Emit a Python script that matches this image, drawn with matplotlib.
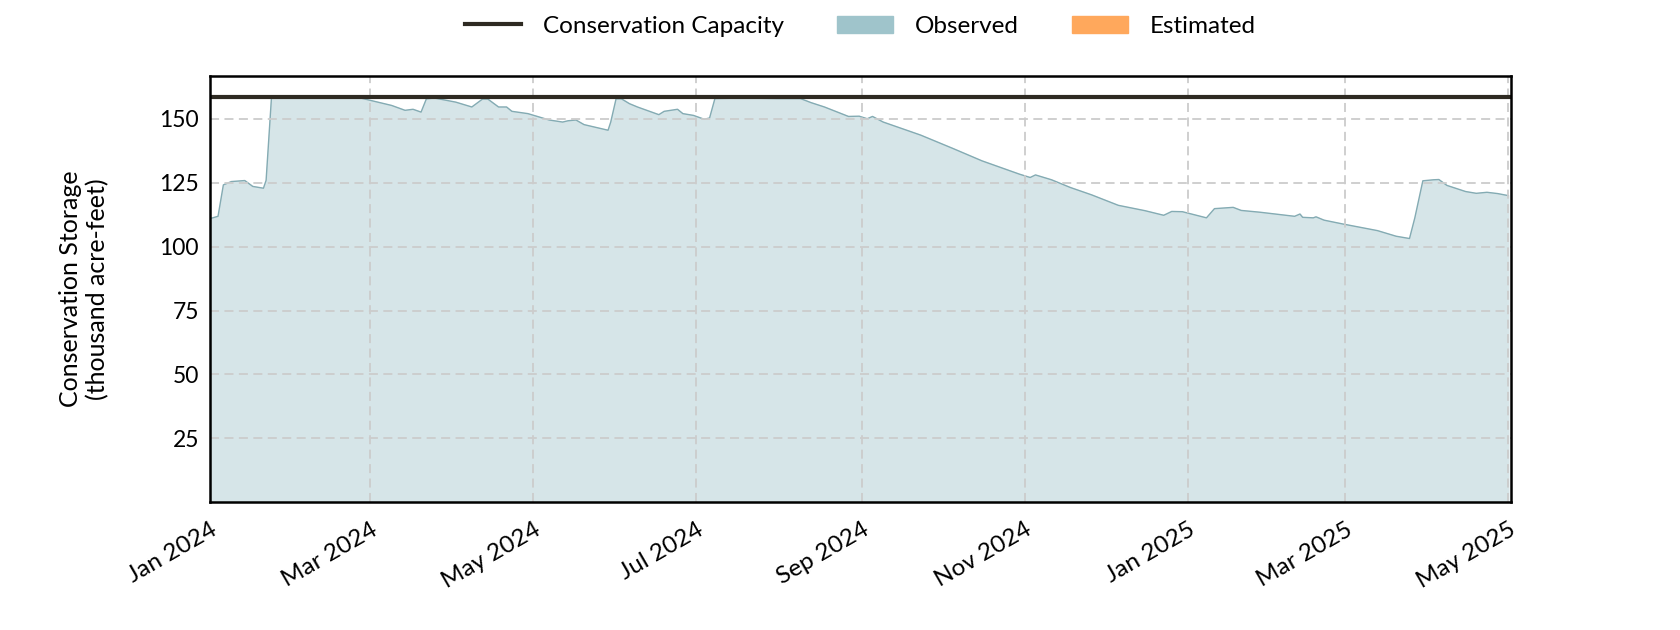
import numpy as np
import pandas as pd
import matplotlib
matplotlib.use('Agg')
import matplotlib.pyplot as plt
import matplotlib.dates as mdates
from matplotlib.patches import Patch
from matplotlib.lines import Line2D

# Dati (migliaia di acre-feet)
dates = ['2024-01-01', '2024-01-04', '2024-01-06', '2024-01-09', '2024-01-14', '2024-01-17',
         '2024-01-21', '2024-01-22', '2024-01-24', '2024-01-31', '2024-02-15', '2024-02-26',
         '2024-02-28', '2024-03-09', '2024-03-14', '2024-03-17', '2024-03-20', '2024-03-22',
         '2024-03-25', '2024-04-02', '2024-04-08', '2024-04-12', '2024-04-14', '2024-04-18',
         '2024-04-21', '2024-04-23', '2024-04-29', '2024-05-07', '2024-05-12', '2024-05-14',
         '2024-05-17', '2024-05-20', '2024-05-29', '2024-05-30', '2024-06-01', '2024-06-03',
         '2024-06-06', '2024-06-09', '2024-06-17', '2024-06-19', '2024-06-24', '2024-06-26',
         '2024-06-30', '2024-07-04', '2024-07-06', '2024-07-08', '2024-07-19', '2024-07-31',
         '2024-08-09', '2024-08-13', '2024-08-18', '2024-08-27', '2024-08-31', '2024-09-03',
         '2024-09-05', '2024-09-09', '2024-09-23', '2024-10-05', '2024-10-16', '2024-10-30',
         '2024-11-03', '2024-11-05', '2024-11-11', '2024-11-18', '2024-11-26', '2024-12-06',
         '2024-12-16', '2024-12-23', '2024-12-26', '2024-12-30', '2025-01-08', '2025-01-11',
         '2025-01-18', '2025-01-21', '2025-01-28', '2025-02-10', '2025-02-12', '2025-02-13',
         '2025-02-17', '2025-02-18', '2025-02-21', '2025-02-28', '2025-03-13', '2025-03-20',
         '2025-03-25', '2025-03-27', '2025-03-30', '2025-04-03', '2025-04-05', '2025-04-08',
         '2025-04-15', '2025-04-19', '2025-04-23', '2025-04-27', '2025-05-01']
storage = [111.0, 111.9, 124.2, 125.5, 125.9, 123.6,
           122.9, 126.0, 158.3, 158.5, 158.3, 158.3,
           157.8, 155.3, 153.4, 153.8, 152.7, 157.9,
           158.2, 156.6, 154.7, 157.8, 157.8, 154.7,
           154.7, 153.0, 152.1, 149.6, 148.8, 149.3,
           149.6, 147.8, 145.6, 148.8, 157.9, 157.9,
           156.0, 154.7, 151.7, 153.0, 153.8, 152.1,
           151.4, 149.9, 150.4, 158.0, 158.2, 158.0,
           158.0, 156.4, 154.7, 151.0, 151.1, 150.1,
           151.0, 148.8, 143.7, 138.5, 133.6, 128.4,
           127.1, 128.1, 126.2, 123.2, 120.3, 116.2,
           114.1, 112.3, 113.8, 113.7, 111.3, 114.9,
           115.4, 114.2, 113.5, 111.9, 112.8, 111.5,
           111.3, 111.7, 110.4, 108.9, 106.3, 104.1,
           103.2, 111.3, 125.8, 126.2, 126.3, 124.0,
           121.6, 120.9, 121.3, 120.8, 120.0]
capacity = 158.8
yticks = [25, 50, 75, 100, 125, 150]

plt.rcParams['font.family'] = ['Lato', 'DejaVu Sans']

t = pd.to_datetime(dates)
v = np.array(storage)

fig = plt.figure(figsize=(16.8, 6.3), dpi=100)
ax = fig.add_axes([0.125, 0.203, 0.7744, 0.676])

ax.fill_between(t, 0, v, color='#d6e5e8', zorder=1)
ax.plot(t, v, color='#84abb3', lw=1.0, zorder=2)
ax.axhline(capacity, color='#2e2a22', lw=3, zorder=3)

ax.set_xlim(pd.Timestamp('2024-01-01'), pd.Timestamp('2025-05-02'))
ax.set_ylim(0, capacity * 1.05)
ax.set_yticks(yticks)
ax.xaxis.set_major_locator(mdates.MonthLocator(bymonth=[1, 3, 5, 7, 9, 11]))
ax.xaxis.set_major_formatter(mdates.DateFormatter('%b %Y'))
ax.tick_params(axis='both', length=0)
ax.tick_params(axis='y', labelsize=16.5, pad=8)
ax.tick_params(axis='x', labelsize=17.5, pad=12)
for lab in ax.get_xticklabels():
	lab.set_rotation(30)
	lab.set_ha('right')
	lab.set_rotation_mode('anchor')

ax.grid(True, color='#cccccc', ls=(0, (5, 3)), lw=1.3, zorder=0)
ax.set_axisbelow(False)
for s in ax.spines.values():
	s.set_linewidth(1.8)
	s.set_zorder(4)

ax.set_ylabel('Conservation Storage\n(thousand acre-feet)', fontsize=18, labelpad=36)

handles = [Line2D([0], [0], color='#2e2a22', lw=3),
           Patch(color='#9fc4cb'),
           Patch(color='#ffa85c')]
ax.legend(handles, ['Conservation Capacity', 'Observed', 'Estimated'],
          loc='center', bbox_to_anchor=(0.5, 1.117), ncol=3, frameon=False,
          fontsize=17.5, handlelength=2.3, columnspacing=2.2, handletextpad=0.9)

fig.savefig('out.png', dpi=100)
